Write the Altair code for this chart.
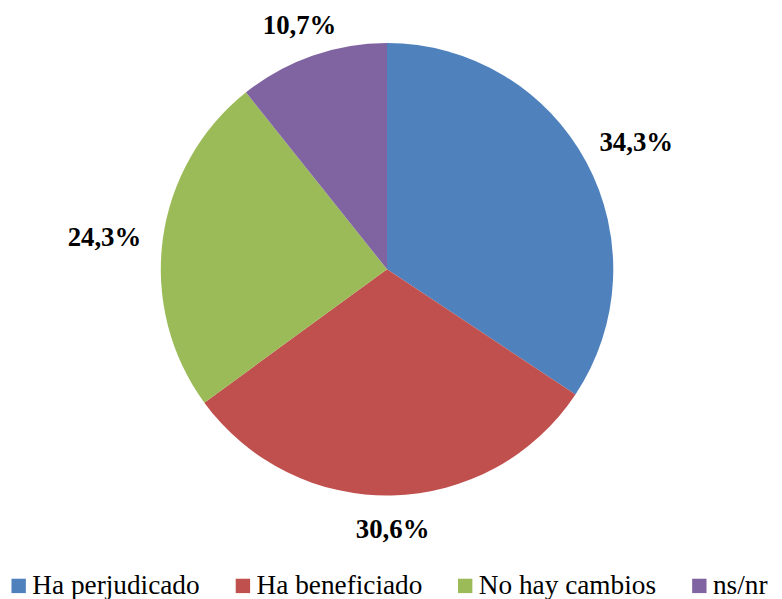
import altair as alt
import pandas as pd

categories = ["Ha perjudicado", "Ha beneficiado", "No hay cambios", "ns/nr"]
values = [34.3, 30.6, 24.3, 10.7]
labels = ["34,3%", "30,6%", "24,3%", "10,7%"]
colors = ["#4F81BD", "#C0504D", "#9BBB59", "#8064A2"]

df = pd.DataFrame({"cat": categories, "v": values, "lab": labels, "idx": list(range(len(categories)))})

pie = alt.Chart(df).mark_arc(outerRadius=228).encode(
    theta=alt.Theta("v:Q", stack=True),
    order=alt.Order("idx:Q"),
    color=alt.Color(
        "cat:N",
        scale=alt.Scale(domain=categories, range=colors),
        sort=categories,
        legend=alt.Legend(
            orient="none", legendX=-3, legendY=566, direction="horizontal", title=None,
            symbolType="square", symbolSize=210, symbolStrokeWidth=0,
            labelFont="Liberation Serif", labelFontSize=27.5, labelColor="black",
            columnPadding=29, labelOffset=0, labelLimit=0,
        ),
    ),
)

text = alt.Chart(df).transform_joinaggregate(total="sum(v)").transform_window(
    cum="sum(v)", sort=[alt.SortField("idx")], frame=[None, 0]
).transform_calculate(
    a="(datum.cum - datum.v/2)/datum.total*2*PI",
    lr="250 + 37*abs(sin(datum.a)) + 5*abs(cos(datum.a))",
).mark_text(
    font="Liberation Serif", fontSize=27, fontWeight="bold", color="black", dy=7
).encode(
    theta=alt.Theta("a:Q", scale=None, stack=None),
    radius=alt.Radius("lr:Q", scale=None),
    text="lab:N",
)

chart = alt.layer(pie, text).resolve_scale(theta="independent").properties(
    width=764, height=522, autosize="none",
    padding={"left": 0, "top": 0, "right": 8, "bottom": 69},
).configure_view(stroke=None)

chart.save("out.html", embed_options={"renderer": "svg", "actions": False})
